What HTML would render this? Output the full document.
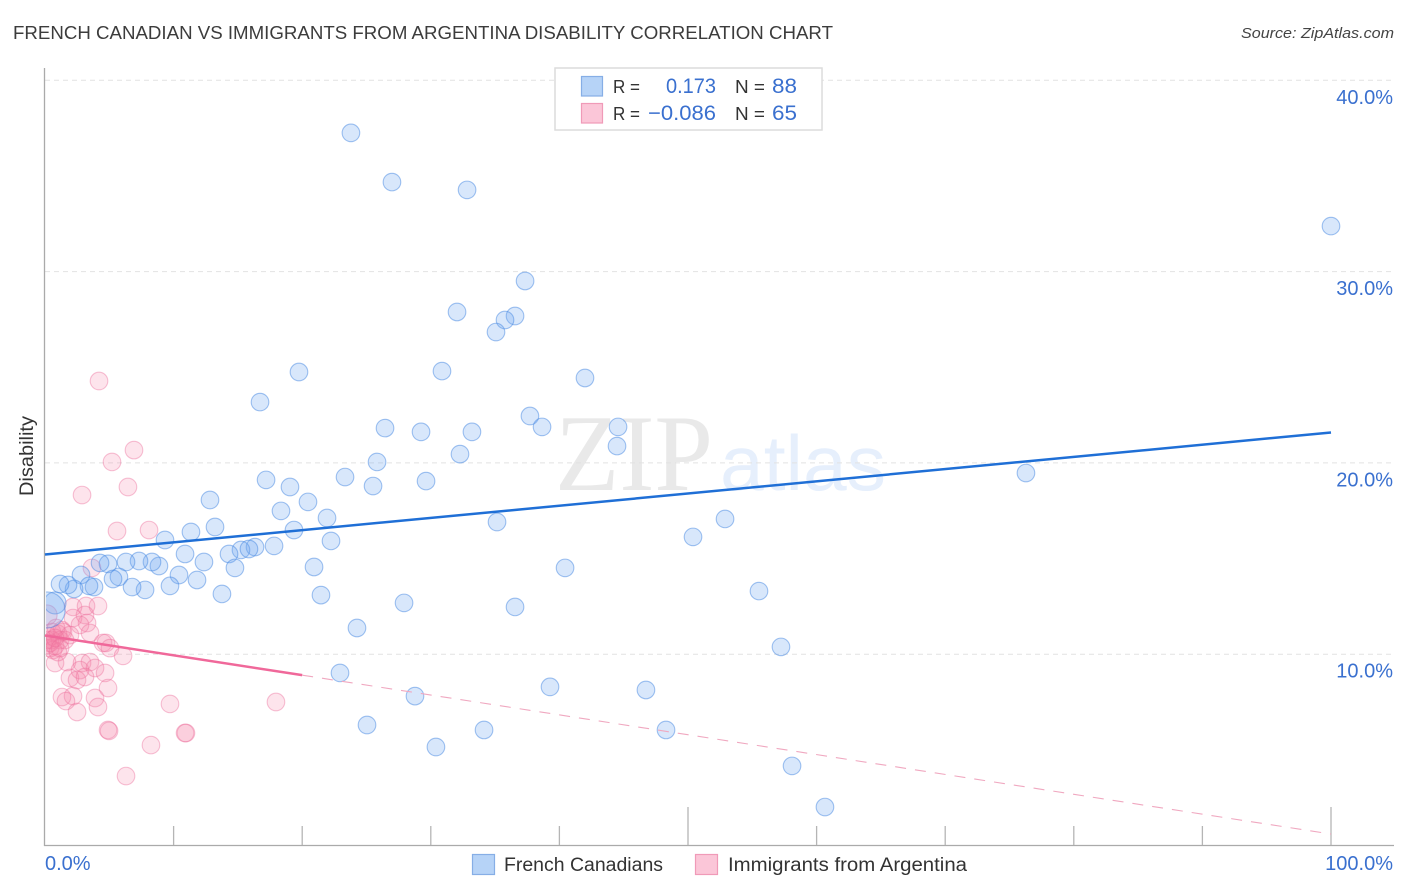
<!DOCTYPE html>
<html lang="en">
<head>
<meta charset="utf-8">
<title>French Canadian vs Immigrants from Argentina Disability Correlation Chart</title>
<style>
html,body{margin:0;padding:0;background:#fff;width:1406px;height:892px;overflow:hidden}
svg{display:block}
text{font-family:"Liberation Sans",sans-serif}
</style>
</head>
<body>
<svg id="chart" xmlns="http://www.w3.org/2000/svg" width="1406" height="892" viewBox="0 0 1406 892">
<defs><clipPath id="plot-clip"><rect x="46" y="60" width="1348" height="785"/></clipPath></defs>
<text x="13" y="39" font-size="18.5" fill="#3c3c3c" textLength="820" lengthAdjust="spacingAndGlyphs">FRENCH CANADIAN VS IMMIGRANTS FROM ARGENTINA DISABILITY CORRELATION CHART</text>
<text x="1394" y="38" font-size="15" font-style="italic" fill="#444" text-anchor="end" textLength="153" lengthAdjust="spacingAndGlyphs">Source: ZipAtlas.com</text>
<text x="555" y="490" font-size="109" fill="#e9e9e9" style="font-family:'Liberation Serif',serif" textLength="158" lengthAdjust="spacingAndGlyphs">ZIP</text>
<text x="720" y="490" font-size="78" fill="#e6effc" textLength="166" lengthAdjust="spacingAndGlyphs">atlas</text>
<g id="grid"></g>
<g id="axes"></g>
<g id="pink-points" clip-path="url(#plot-clip)"></g>
<g id="blue-points" clip-path="url(#plot-clip)"></g>
<g id="trends"></g>
<text transform="translate(33,456) rotate(-90)" font-size="19" fill="#333" text-anchor="middle" textLength="80" lengthAdjust="spacingAndGlyphs">Disability</text>
<g>
<rect x="555" y="68" width="267" height="62" fill="#fff" stroke="#dcdcdc" stroke-width="1.5"/>
<rect x="581.5" y="76.5" width="21" height="19.5" fill="#b6d3f7" stroke="#86aee6" stroke-width="1.2"/>
<rect x="581.5" y="103.5" width="21" height="19.5" fill="#fbc6d8" stroke="#f09ab8" stroke-width="1.2"/>
<text x="613" y="93" font-size="18.5" fill="#333" textLength="27" lengthAdjust="spacingAndGlyphs">R =</text>
<text x="613" y="120" font-size="18.5" fill="#333" textLength="27" lengthAdjust="spacingAndGlyphs">R =</text>
<text x="716" y="93" font-size="21" fill="#3a70cf" text-anchor="end" textLength="50" lengthAdjust="spacingAndGlyphs">0.173</text>
<text x="716" y="120" font-size="21" fill="#3a70cf" text-anchor="end" textLength="68" lengthAdjust="spacingAndGlyphs">−0.086</text>
<text x="735" y="93" font-size="18.5" fill="#333" textLength="30" lengthAdjust="spacingAndGlyphs">N =</text>
<text x="735" y="120" font-size="18.5" fill="#333" textLength="30" lengthAdjust="spacingAndGlyphs">N =</text>
<text x="797" y="93" font-size="21" fill="#3a70cf" text-anchor="end" textLength="25" lengthAdjust="spacingAndGlyphs">88</text>
<text x="797" y="120" font-size="21" fill="#3a70cf" text-anchor="end" textLength="25" lengthAdjust="spacingAndGlyphs">65</text>
</g>
<g>
<rect x="472.5" y="854.5" width="22" height="20" fill="#b6d3f7" stroke="#86aee6" stroke-width="1.2"/>
<text x="504" y="871" font-size="19" fill="#333" textLength="159" lengthAdjust="spacingAndGlyphs">French Canadians</text>
<rect x="695.5" y="854.5" width="22" height="20" fill="#fbc6d8" stroke="#f09ab8" stroke-width="1.2"/>
<text x="728" y="871" font-size="19" fill="#333" textLength="239" lengthAdjust="spacingAndGlyphs">Immigrants from Argentina</text>
</g>
</svg>
<script>
const xTicks = [10,20,30,40,50,60,70,80,90,100];
const xMajorTicks = [50,100];
const yTicks = [10,20,30,40];
const yTickLabels = ["10.0%","20.0%","30.0%","40.0%"];
const xEndLabels = ["0.0%","100.0%"];
const blueX = [23.79,26.98,32.82,100,37.33,32.04,36.55,35.77,35.07,19.75,30.87,41.99,16.72,37.71,38.65,26.44,29.24,33.20,44.56,44.48,32.27,25.82,76.28,23.33,29.63,17.19,25.51,19.05,12.83,20.45,18.35,21.93,35.15,52.88,13.22,19.36,11.35,9.33,22.24,50.39,17.81,16.33,15.24,15.86,14.31,10.89,12.36,40.44,20.92,14.77,27.92,36.55,55.52,24.26,57.23,22.94,39.27,46.73,28.77,25.04,34.14,48.29,30.40,58.09,60.65,8.86,8.32,7.31,6.30,4.90,4.28,2.80,5.75,5.29,10.42,11.82,9.72,7.78,6.77,13.76,21.46,3.81,3.42,2.26,1.79,1.17];
const blueY = [37.25,34.68,34.27,32.38,29.51,27.89,27.68,27.47,26.84,24.75,24.80,24.44,23.18,22.45,21.88,21.82,21.62,21.62,21.88,20.88,20.46,20.05,19.47,19.26,19.05,19.11,18.79,18.74,18.06,17.96,17.49,17.12,16.91,17.07,16.65,16.49,16.39,15.97,15.92,16.13,15.66,15.60,15.45,15.50,15.24,15.24,14.82,14.51,14.56,14.51,12.68,12.47,13.30,11.37,10.38,9.02,8.29,8.13,7.81,6.30,6.04,6.04,5.15,4.16,2.01,14.61,14.82,14.87,14.82,14.72,14.77,14.14,14.04,13.93,14.14,13.88,13.57,13.36,13.51,13.15,13.09,13.51,13.57,13.41,13.62,13.67];
const blueLargeX = [0.78,0.16];
const blueLargeY = [12.68,12.31];
const blueLargeWeight = [1.56,4.2];
const pinkX = [4.20,6.92,5.21,6.45,2.88,5.60,8.09,3.65,2.18,3.19,4.12,2.18,3.11,3.27,2.72,3.50,1.40,4.51,4.74,5.05,6.07,0.78,1.71,2.88,3.50,2.72,3.89,4.67,1.94,2.49,3.11,4.90,1.32,2.18,1.63,3.89,4.12,2.49,9.72,17.96,4.90,4.98,10.89,10.96,8.24,6.30,0.23,0.54,1.01,1.32,0.16,0.39,0.78,1.17,0.54,0.86,0.62,1.01,1.56,1.94,0.16,0.39,0.78,1.17];
const pinkY = [24.28,20.67,20.05,18.74,18.32,16.44,16.49,14.51,12.47,12.52,12.52,11.89,12.05,11.63,11.53,11.11,11.16,10.59,10.59,10.32,9.91,9.54,9.59,9.54,9.59,9.17,9.28,9.02,8.76,8.65,8.81,8.23,7.76,7.81,7.55,7.71,7.24,6.98,7.40,7.50,6.04,5.99,5.88,5.88,5.25,3.63,10.95,11.16,11.06,11.26,10.48,10.32,10.43,10.74,10.74,11.37,10.22,10.11,10.74,11.00,10.74,10.59,10.85,10.32];
const pinkLargeX = [0.16];
const pinkLargeY = [12.05];
const pinkLargeWeight = [1.3];
const blueTrendX = [0,100];
const blueTrendY = [15.21,21.59];
const pinkTrendSolidX = [0,20];
const pinkTrendDashX = [20,100];
const pinkTrendStart = 10.98;
const pinkTrendEnd = 0.60;

const NS = "http://www.w3.org/2000/svg";
function xScale(v){ return 45 + v * 12.86; }
function yScale(v){ return 845.5 - v * 19.13; }
function pinkTrendAt(x){ return pinkTrendStart + (pinkTrendEnd - pinkTrendStart) * x / 100; }
function make(parent, tag, attrs){
  const el = document.createElementNS(NS, tag);
  for (const k in attrs) el.setAttribute(k, attrs[k]);
  parent.appendChild(el);
  return el;
}
const grid = document.getElementById("grid");
const axes = document.getElementById("axes");
yTicks.forEach(function(t, i){
  const line = make(grid, "line", {x1:45, x2:1394, y1:yScale(t), y2:yScale(t), stroke:"#e2e2e2", "stroke-width":1, "stroke-dasharray":"5 4"});
  
  
  const label = make(axes, "text", {x:1393, y:yScale(t) + 23.5, "font-size":20, fill:"#3a70cf", "text-anchor":"end"});
  
  
  label.textContent = yTickLabels[i];
});
const yAxisLine = make(axes, "line", {x1:44.5, x2:44.5, y1:68, y2:846, stroke:"#aaa", "stroke-width":1.3});


const xAxisLine = make(axes, "line", {x1:44, x2:1394, y1:845.5, y2:845.5, stroke:"#aaa", "stroke-width":1.3});


xTicks.forEach(function(t){
  const top = xMajorTicks.indexOf(t) >= 0 ? 807 : 826;
  const tick = make(axes, "line", {x1:xScale(t), x2:xScale(t), y1:top, y2:845, stroke:"#b5b5b5", "stroke-width":1.3});
  
  
});
const xLabelLeft = make(axes, "text", {x:45, y:870, "font-size":20, fill:"#3a70cf"});


xLabelLeft.textContent = xEndLabels[0];
const xLabelRight = make(axes, "text", {x:1393, y:870, "font-size":20, fill:"#3a70cf", "text-anchor":"end"});


xLabelRight.textContent = xEndLabels[1];

const BASE_R = 8.8;
const PINK_FILL = "rgba(246,130,170,0.22)";
const PINK_STROKE = "rgba(236,110,155,0.42)";
const BLUE_FILL = "rgba(110,165,240,0.27)";
const BLUE_STROKE = "rgba(70,135,225,0.5)";
const pinkGroup = document.getElementById("pink-points");
const blueGroup = document.getElementById("blue-points");
pinkX.forEach(function(v, i){
  const c = make(pinkGroup, "circle", {cx:xScale(v), cy:yScale(pinkY[i]), r:BASE_R, fill:PINK_FILL, stroke:PINK_STROKE, "stroke-width":1.1});
  
  
});
pinkLargeX.forEach(function(v, i){
  const c = make(pinkGroup, "circle", {cx:xScale(v), cy:yScale(pinkLargeY[i]), r:BASE_R * Math.sqrt(pinkLargeWeight[i]), fill:PINK_FILL, stroke:PINK_STROKE, "stroke-width":1.1});
  
  
});
blueX.forEach(function(v, i){
  const c = make(blueGroup, "circle", {cx:xScale(v), cy:yScale(blueY[i]), r:BASE_R, fill:BLUE_FILL, stroke:BLUE_STROKE, "stroke-width":1.1});
  
  
});
blueLargeX.forEach(function(v, i){
  const c = make(blueGroup, "circle", {cx:xScale(v), cy:yScale(blueLargeY[i]), r:BASE_R * Math.sqrt(blueLargeWeight[i]), fill:BLUE_FILL, stroke:BLUE_STROKE, "stroke-width":1.1});
  
  
});
const trends = document.getElementById("trends");
const blueTrend = make(trends, "line", {x1:xScale(blueTrendX[0]), y1:yScale(blueTrendY[0]), x2:xScale(blueTrendX[1]), y2:yScale(blueTrendY[1]), stroke:"#1f6fd6", "stroke-width":2.5});


const pinkSolid = make(trends, "line", {x1:xScale(pinkTrendSolidX[0]), y1:yScale(pinkTrendAt(pinkTrendSolidX[0])), x2:xScale(pinkTrendSolidX[1]), y2:yScale(pinkTrendAt(pinkTrendSolidX[1])), stroke:"#f0689a", "stroke-width":2.5});


const pinkDash = make(trends, "line", {x1:xScale(pinkTrendDashX[0]), y1:yScale(pinkTrendAt(pinkTrendDashX[0])), x2:xScale(pinkTrendDashX[1]), y2:yScale(pinkTrendAt(pinkTrendDashX[1])), stroke:"#f0a8c0", "stroke-width":1.1, "stroke-dasharray":"11 9"});


</script>
</body>
</html>
